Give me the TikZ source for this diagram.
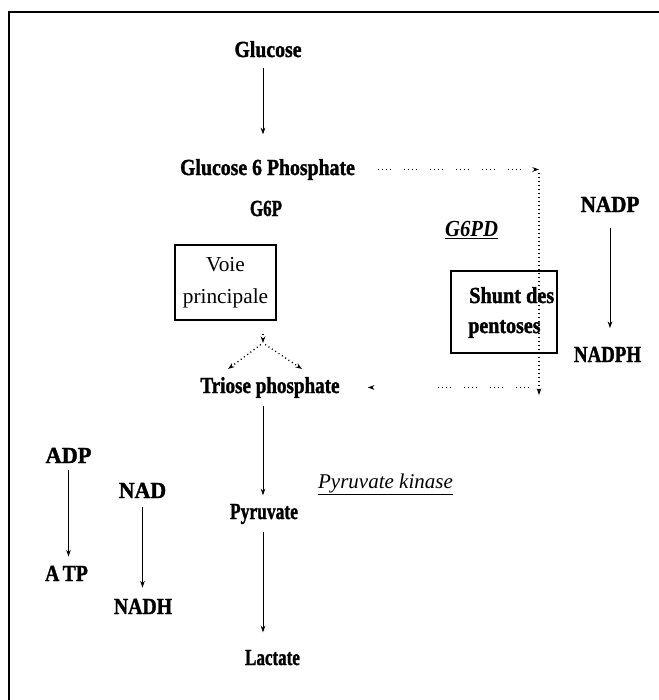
\documentclass[tikz,border=0pt]{standalone}
\usepackage{graphicx}
\usepackage{fontspec}
\setmainfont{Liberation Serif}[BoldFeatures={FakeBold=1.6}]
\usetikzlibrary{arrows.meta}
\newcommand{\sx}[2]{\scalebox{#1}[1]{#2}}
\begin{document}
\begin{tikzpicture}[x=0.75pt,y=-0.75pt,
  bl/.style={inner sep=0pt, anchor=base, font=\fontsize{17.25}{20}\selectfont\bfseries},
  tip/.style={-{Stealth[length=5pt,width=3.5pt]}},
  arr/.style={line width=0.75pt, tip},
  dotv/.style={line width=1pt, dash pattern=on 0.75pt off 2.25pt},
  dotg/.style={line width=1pt, dash pattern=on 0.75pt off 2.25pt on 0.75pt off 2.25pt on 0.75pt off 2.25pt on 0.75pt off 9.75pt},
  box/.style={draw, line width=0.9pt, inner sep=0pt},
]
\useasboundingbox (0,0) rectangle (659,700);
\draw[line width=1.6pt] (9,705) -- (9,12) -- (665,12);

\coordinate (axis) at (263,0);
\node[bl] (glc) at (268,57) {\sx{0.86}{Glucose}};
\node[bl] (g6p) at (267.5,175) {\sx{0.86}{Glucose 6 Phosphate}};
\node[bl] (g6pa) at (266,216) {\sx{0.74}{G6P}};
\node[bl] (tri) at (270,393) {\sx{0.83}{Triose phosphate}};
\node[bl] (pyr) at (264,519) {\sx{0.76}{Pyruvate}};
\node[bl] (lac) at (272.5,665) {\sx{0.74}{Lactate}};

\node[bl] (adp) at (68.5,463) {\sx{0.97}{ADP}};
\node[bl] (atp) at (66.5,581) {\sx{0.86}{A\,TP}};
\node[bl] (nad) at (142.5,498) {\sx{0.95}{NAD}};
\node[bl] (nadh) at (143,614) {\sx{0.86}{NADH}};
\node[bl] (nadp) at (610,212) {\sx{0.92}{NADP}};
\node[bl] (nadph) at (607.5,362) {\sx{0.82}{NADPH}};

\node[inner sep=0pt, anchor=base, font=\fontsize{17.25}{20}\selectfont\bfseries\itshape] (g6pd) at (471.5,236) {\sx{0.9}{\underline{G6PD}}};
\node[inner sep=0pt, anchor=base, font=\fontsize{15.75}{18}\selectfont\itshape] (pk) at (385.5,488) {\underline{Pyruvate kinase}};

\node[box, minimum width=75.75pt, minimum height=56.25pt, align=center, font=\fontsize{16}{24}\selectfont] (voie) at (225.5,282.5) {Voie\\principale};

\node[box, minimum width=79.5pt, minimum height=61.5pt] (shunt) at (504,312) {};
\node[bl, anchor=base west] (shunt1) at (469,303) {\sx{0.88}{Shunt des}};
\node[bl, anchor=base west] (shunt2) at (468,333) {\sx{0.87}{pentoses}};

% main solid arrows
\draw[arr, shorten <=7.5pt, shorten >=18.3pt] (glc.south -| axis) -- (axis |- g6p.north);
\draw[arr, shorten <=6pt, shorten >=6.3pt] (tri.south -| axis) -- (axis |- pyr.north);
\draw[arr, shorten <=6pt, shorten >=13pt] (pyr.south -| axis) -- (axis |- lac.north);
\draw[arr, shorten <=5.25pt, shorten >=6.75pt] (adp.south) -- (adp.south |- atp.north);
\draw[arr, shorten <=6.75pt, shorten >=8.25pt] (nad.south) -- (nad.south |- nadh.north);
\draw[arr, shorten <=12pt, shorten >=13.8pt] (nadp.south) -- (nadp.south |- nadph.north);

% pentose shunt dotted path
\coordinate (topR) at (539,169);
\coordinate (botR) at (539,395);
\draw[dotg, tip, shorten <=17pt] (g6p.east) -- (g6p.east -| topR);
\draw[dotv, tip, shorten <=3pt] (g6p.east -| topR) -- (botR);
\coordinate (botL) at (529,0);
\coordinate (botM) at (433,0);
\draw[dotg] (tri.east -| botL) -- (tri.east -| botM);
\draw[tip, dash pattern=on 0pt off 300pt, shorten >=21pt] (tri.east -| botM) -- (tri.east);

% main pathway split
\coordinate (split) at (263,343);
\coordinate (tl) at (228,369);
\coordinate (tr) at (302,369);
\draw[dotv, tip, shorten <=10pt] (voie.south -| split) -- (split);
\draw[dotv, tip, shorten <=2pt] (split) -- (tl);
\draw[dotv, tip, shorten <=2pt] (split) -- (tr);
\end{tikzpicture}
\end{document}
